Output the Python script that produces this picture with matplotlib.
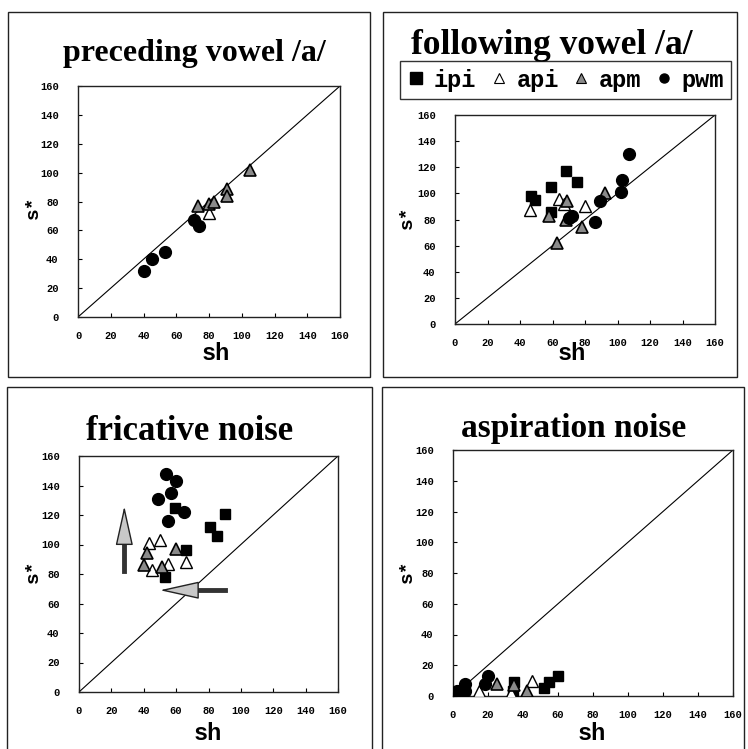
import matplotlib
matplotlib.use("Agg")
import matplotlib.pyplot as plt
from matplotlib.lines import Line2D
from matplotlib.patches import Rectangle

# ---------------- data ----------------
ticks = [0, 20, 40, 60, 80, 100, 120, 140, 160]
titles = ["preceding vowel /a/", "following vowel /a/", "fricative noise", "aspiration noise"]
series_names = ["ipi", "api", "apm", "pwm"]

# preceding vowel /a/
pv_ipi_x, pv_ipi_y = [], []
pv_api_x, pv_api_y = [80], [72]
pv_apm_x = [73, 80, 83, 91, 91, 105]
pv_apm_y = [77, 78, 80, 89, 84, 102]
pv_pwm_x = [40, 45, 53, 71, 74]
pv_pwm_y = [32, 40, 45, 67, 63]

# following vowel /a/
fv_ipi_x = [47, 49, 59, 68, 75, 59]
fv_ipi_y = [98, 95, 105, 117, 109, 86]
fv_api_x = [46, 64, 67, 80]
fv_api_y = [87, 96, 92, 90]
fv_apm_x = [58, 69, 68, 78, 63, 92]
fv_apm_y = [83, 94, 80, 74, 62, 100]
fv_pwm_x = [72, 70, 86, 89, 102, 103, 107]
fv_pwm_y = [83, 81, 78, 94, 101, 110, 130]

# fricative noise
fn_ipi_x = [59, 81, 85, 90, 66, 53]
fn_ipi_y = [125, 112, 106, 121, 96, 78]
fn_api_x = [43, 50, 66, 55, 45]
fn_api_y = [101, 103, 88, 87, 83]
fn_apm_x = [42, 40, 51, 60]
fn_apm_y = [94, 86, 85, 97]
fn_pwm_x = [49, 57, 54, 60, 65, 55]
fn_pwm_y = [131, 135, 148, 143, 122, 116]
fn_arrow_up = [(28, 82), (28, 126)]
fn_arrow_left = [(90, 69), (50, 69)]

# aspiration noise
an_ipi_x = [35, 34, 52, 55, 60]
an_ipi_y = [9, 3, 5, 9, 13]
an_api_x = [45, 33, 15]
an_api_y = [10, 2, 3]
an_apm_x = [25, 35, 42]
an_apm_y = [8, 7, 3]
an_pwm_x = [2, 7, 7, 18, 20]
an_pwm_y = [3, 8, 3, 8, 13]

panels = [
    [(pv_ipi_x, pv_ipi_y), (pv_api_x, pv_api_y), (pv_apm_x, pv_apm_y), (pv_pwm_x, pv_pwm_y)],
    [(fv_ipi_x, fv_ipi_y), (fv_api_x, fv_api_y), (fv_apm_x, fv_apm_y), (fv_pwm_x, fv_pwm_y)],
    [(fn_ipi_x, fn_ipi_y), (fn_api_x, fn_api_y), (fn_apm_x, fn_apm_y), (fn_pwm_x, fn_pwm_y)],
    [(an_ipi_x, an_ipi_y), (an_api_x, an_api_y), (an_apm_x, an_apm_y), (an_pwm_x, an_pwm_y)],
]

# ---------------- layout ----------------
W, H = 748, 749
fig = plt.figure(figsize=(W / 100, H / 100), dpi=100)
fig.patch.set_facecolor("white")

def fr(x0, y0, x1, y1):
    return [x0 / W, 1 - y1 / H, (x1 - x0) / W, (y1 - y0) / H]

# panel frames (pixels)
frames = [(8, 12, 370, 377), (383, 12, 737, 377), (7, 387, 372, 760), (382, 387, 744, 760)]
for (x0, y0, x1, y1) in frames:
    fig.patches.append(Rectangle((x0 / W, 1 - y1 / H), (x1 - x0) / W, (y1 - y0) / H,
                                 transform=fig.transFigure, fill=False, ec="#222222", lw=1.0))

axes_px = [(78, 86, 340, 317), (455, 115, 715, 324), (79, 456, 338, 692), (453, 450, 733, 696)]
title_pos = [(194, 53), (552, 45), (190, 431), (574, 428)]
title_size = [23, 25.5, 25, 24]
xlab_pos = [(216, 354), (572, 353), (208, 733), (592, 733)]
ylab_pos = [(33, 207), (407, 217), (33, 571), (407, 571)]

styles = [
    dict(marker="s", mfc="black", mec="black", ms=7.5),
    dict(marker="^", mfc="white", mec="black", ms=8.5, mew=1.0),
    dict(marker="^", mfc="#8a8a8a", mec="black", ms=8.5, mew=1.2),
    dict(marker="o", mfc="black", mec="black", ms=8.5),
]

mono = ["Liberation Mono", "DejaVu Sans Mono"]
serif = ["Liberation Serif", "DejaVu Serif"]

for i, (x0, y0, x1, y1) in enumerate(axes_px):
    ax = fig.add_axes(fr(x0, y0, x1, y1))
    ax.set_xlim(0, 160)
    ax.set_ylim(0, 160)
    ax.plot([0, 160], [0, 160], color="black", lw=0.8, zorder=1)
    for (xs, ys), st in zip(panels[i], styles):
        if len(xs):
            ax.plot(xs, ys, ls="none", zorder=3, **st)
    ax.set_xticks(ticks)
    ax.set_yticks(ticks)
    ax.tick_params(direction="in", length=3, width=0.8, labelsize=7.5)
    ax.tick_params(axis="x", pad=10)
    ax.tick_params(axis="y", pad=14)
    for lab in ax.get_xticklabels() + ax.get_yticklabels():
        lab.set_family(mono)
        lab.set_fontweight("bold")
    for sp in ax.spines.values():
        sp.set_linewidth(1.0)
        sp.set_color("#222222")
    lx, ly = xlab_pos[i]
    fig.text(lx / W, 1 - ly / H, "sh", family=mono, fontweight="bold",
             fontsize=17, ha="center", va="center")
    yx, yy = ylab_pos[i]
    fig.text(yx / W, 1 - yy / H, "s*", family=mono, fontweight="bold",
             fontsize=14, ha="center", va="center", rotation=90)
    tx, ty = title_pos[i]
    fig.text(tx / W, 1 - ty / H, titles[i], family=serif, fontweight="bold",
             fontsize=title_size[i], ha="center", va="center")

    if i == 2:
        (ax0, ay0), (ax1, ay1) = fn_arrow_up
        ax.plot([ax0, ax1], [ay0, ay1 - 10], color="#333333", lw=3.5, zorder=2)
        ax.annotate("", xy=(ax1, ay1), xytext=(ax1, ay1 - 14),
                    arrowprops=dict(arrowstyle="-|>,head_length=1.8,head_width=0.4",
                                    fc="#c8c8c8", ec="#222222", lw=1.0, shrinkA=0, shrinkB=0,
                                    mutation_scale=14), zorder=4)
        (bx0, by0), (bx1, by1) = fn_arrow_left
        ax.plot([bx0, bx1 + 10], [by0, by1], color="#333333", lw=3.5, zorder=2)
        ax.annotate("", xy=(bx1, by1), xytext=(bx1 + 14, by1),
                    arrowprops=dict(arrowstyle="-|>,head_length=1.8,head_width=0.4",
                                    fc="#c8c8c8", ec="#222222", lw=1.0, shrinkA=0, shrinkB=0,
                                    mutation_scale=14), zorder=4)

# legend for panel 2
handles = [
    Line2D([], [], ls="none", marker="s", mfc="black", mec="black", ms=9),
    Line2D([], [], ls="none", marker="^", mfc="white", mec="black", ms=6.5, mew=0.8),
    Line2D([], [], ls="none", marker="^", mfc="#8a8a8a", mec="black", ms=6.5, mew=0.8),
    Line2D([], [], ls="none", marker="o", mfc="black", mec="black", ms=6.5),
]
leg = fig.legend(handles, series_names, loc="center", bbox_to_anchor=(565.5 / W, 1 - 80 / H),
                 ncol=4, frameon=True, fancybox=False, edgecolor="black", handlelength=0.8,
                 handletextpad=0.35, columnspacing=0.55, borderpad=0.3, borderaxespad=0,
                 prop=dict(family=mono, weight="bold", size=17))
leg.get_frame().set_linewidth(1.0)

fig.savefig("out.png", dpi=100, facecolor="white")
